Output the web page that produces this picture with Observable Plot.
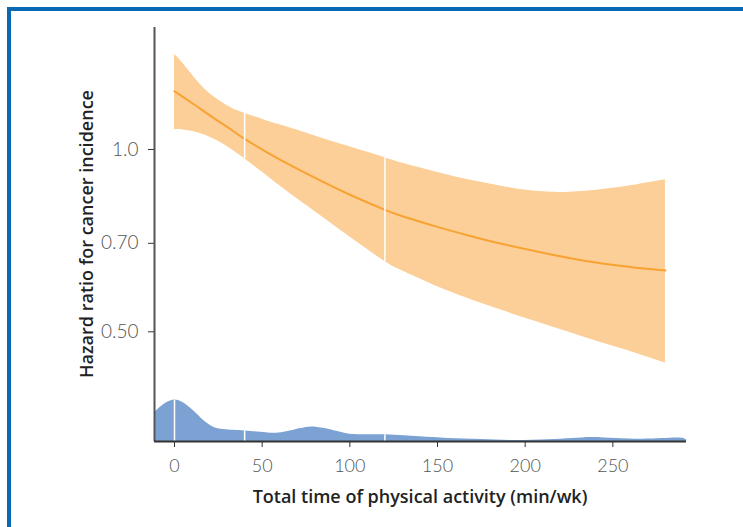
<!DOCTYPE html>
<html>
<head>
<meta charset="utf-8">
<script src="https://cdn.jsdelivr.net/npm/d3@7"></script>
<script src="https://cdn.jsdelivr.net/npm/@observablehq/plot@0.6"></script>
<style>
  html, body { margin: 0; padding: 0; background: #fff; }
  body { width: 743px; height: 527px; overflow: hidden; position: relative; }
  #frame { position: absolute; left: 7px; top: 7px; width: 900px; height: 700px;
           border-top: 4px solid #0b69b4; border-left: 4px solid #0b69b4; box-sizing: border-box; }
  #chart { position: absolute; left: 0; top: 0; }
</style>
</head>
<body>
<div id="frame"></div>
<div id="chart"></div>
<script>
// ---- Data ----
// Spline estimate of hazard ratio with 95% CI, by total physical activity (min/wk)
const bandX   = [0, 5, 15, 25, 33, 40, 52, 62, 81, 100, 120, 130, 148, 167, 187, 206, 225, 244, 263, 280];
const hrFit   = [1.248, 1.220, 1.166, 1.114, 1.075, 1.041, 0.992, 0.956, 0.895, 0.842, 0.795, 0.776, 0.748, 0.722, 0.698, 0.679, 0.662, 0.648, 0.638, 0.631];
const hrLower = [1.078, 1.077, 1.062, 1.032, 0.998, 0.965, 0.908, 0.862, 0.786, 0.717, 0.653, 0.630, 0.597, 0.568, 0.542, 0.520, 0.499, 0.479, 0.461, 0.444];
const hrUpper = [1.435, 1.385, 1.278, 1.207, 1.169, 1.148, 1.117, 1.094, 1.051, 1.010, 0.969, 0.949, 0.920, 0.892, 0.869, 0.853, 0.850, 0.859, 0.874, 0.891];

// Spline knots (min/wk)
const knots = [0, 40, 120];

// Distribution of physical activity (relative density)
const densX = [-11.4, -6, 0, 5, 11, 17, 22, 28, 40, 49, 58, 64, 72, 78, 85, 93, 100, 110, 120, 131, 140, 156, 175, 194, 213, 227, 238, 252, 267, 278, 290, 292];
const dens  = [29, 37.3, 41.7, 39, 30.7, 20.7, 14.7, 12, 10.7, 9.3, 8.3, 9.7, 13, 14.7, 13.3, 10, 7.3, 6.7, 6.7, 5.7, 4.7, 3, 2, 1, 1.7, 3, 4, 3, 2.3, 3, 3.3, 1.7];

// Axis ticks
const xTicks = [0, 50, 100, 150, 200, 250];
const yTicks = [0.5, 0.7, 1.0];
const yTickLabels = ["0.50", "0.70", "1.0"];

const xLabel = "Total time of physical activity (min/wk)";
const yLabel = "Hazard ratio for cancer incidence";

// ---- Build tables ----
const band = bandX.map((x, i) => ({x, fit: hrFit[i], lo: hrLower[i], hi: hrUpper[i]}));
const density = densX.map((x, i) => ({x, d: dens[i]}));

const xDomain = [-11.4, 292];
const yDomain = [0.3295, 1.59];
const stripFrac = 0.1;               // share of plot height used by density strip
const dMax = d3.max(dens);
const densToY = d => yDomain[0] * Math.pow(yDomain[1] / yDomain[0], (d / dMax) * stripFrac);

const bandKnots = band.filter(r => knots.includes(r.x) && r.x > bandX[0]);
const densKnots = density.filter(r => knots.includes(r.x));

const axisColor = "#555";
const tickFont = "Lato, 'Open Sans', sans-serif";

const chart = Plot.plot({
  width: 743,
  height: 527,
  marginLeft: 154,
  marginRight: 57,
  marginTop: 27,
  marginBottom: 86,
  style: {background: "transparent", fontFamily: tickFont},
  x: {domain: xDomain},
  y: {type: "log", domain: yDomain},
  marks: [
    // CI band
    Plot.areaY(band, {x: "x", y1: "lo", y2: "hi", fill: "#fccf98", curve: "natural"}),
    // fitted line
    Plot.lineY(band, {x: "x", y: "fit", stroke: "#f8a232", strokeWidth: 2, curve: "natural"}),
    // knot rules across band
    Plot.ruleX(bandKnots, {x: "x", y1: "lo", y2: "hi", stroke: "#fff", strokeWidth: 1.5}),
    // density strip
    Plot.areaY(density, {x: "x", y1: () => yDomain[0], y2: r => densToY(r.d), fill: "#7ba2d3", curve: "catmull-rom"}),
    Plot.ruleX(densKnots, {x: "x", y1: () => yDomain[0], y2: r => densToY(r.d), stroke: "#fff", strokeWidth: 1.5}),
    // axes
    Plot.axisX({ticks: xTicks, tickSize: 6, tickPadding: 12, fontSize: 18, fontWeight: 300,
                color: axisColor, stroke: "#333", label: null}),
    Plot.axisY({ticks: yTicks, tickFormat: d => yTickLabels[yTicks.indexOf(d)], tickSize: 6, tickPadding: 10,
                fontSize: 19, fontWeight: 300, color: axisColor, stroke: "#333", label: null}),
    Plot.ruleX([xDomain[0]], {stroke: axisColor, strokeWidth: 2}),
    Plot.ruleY([yDomain[0]], {stroke: "#333", strokeWidth: 2})
  ]
});

// axis titles
const svg = d3.select(chart);
svg.append("text")
  .attr("x", 420).attr("y", 498)
  .attr("text-anchor", "middle").attr("dominant-baseline", "middle")
  .attr("font-family", "'Open Sans', sans-serif").attr("font-weight", 600).attr("font-size", 18)
  .attr("fill", "#222").text(xLabel);
svg.append("text")
  .attr("transform", "translate(88,234) rotate(-90)")
  .attr("text-anchor", "middle").attr("dominant-baseline", "middle")
  .attr("font-family", "'Open Sans', sans-serif").attr("font-weight", 600).attr("font-size", 18)
  .attr("fill", "#222").text(yLabel);

document.getElementById("chart").appendChild(chart);
</script>
</body>
</html>
